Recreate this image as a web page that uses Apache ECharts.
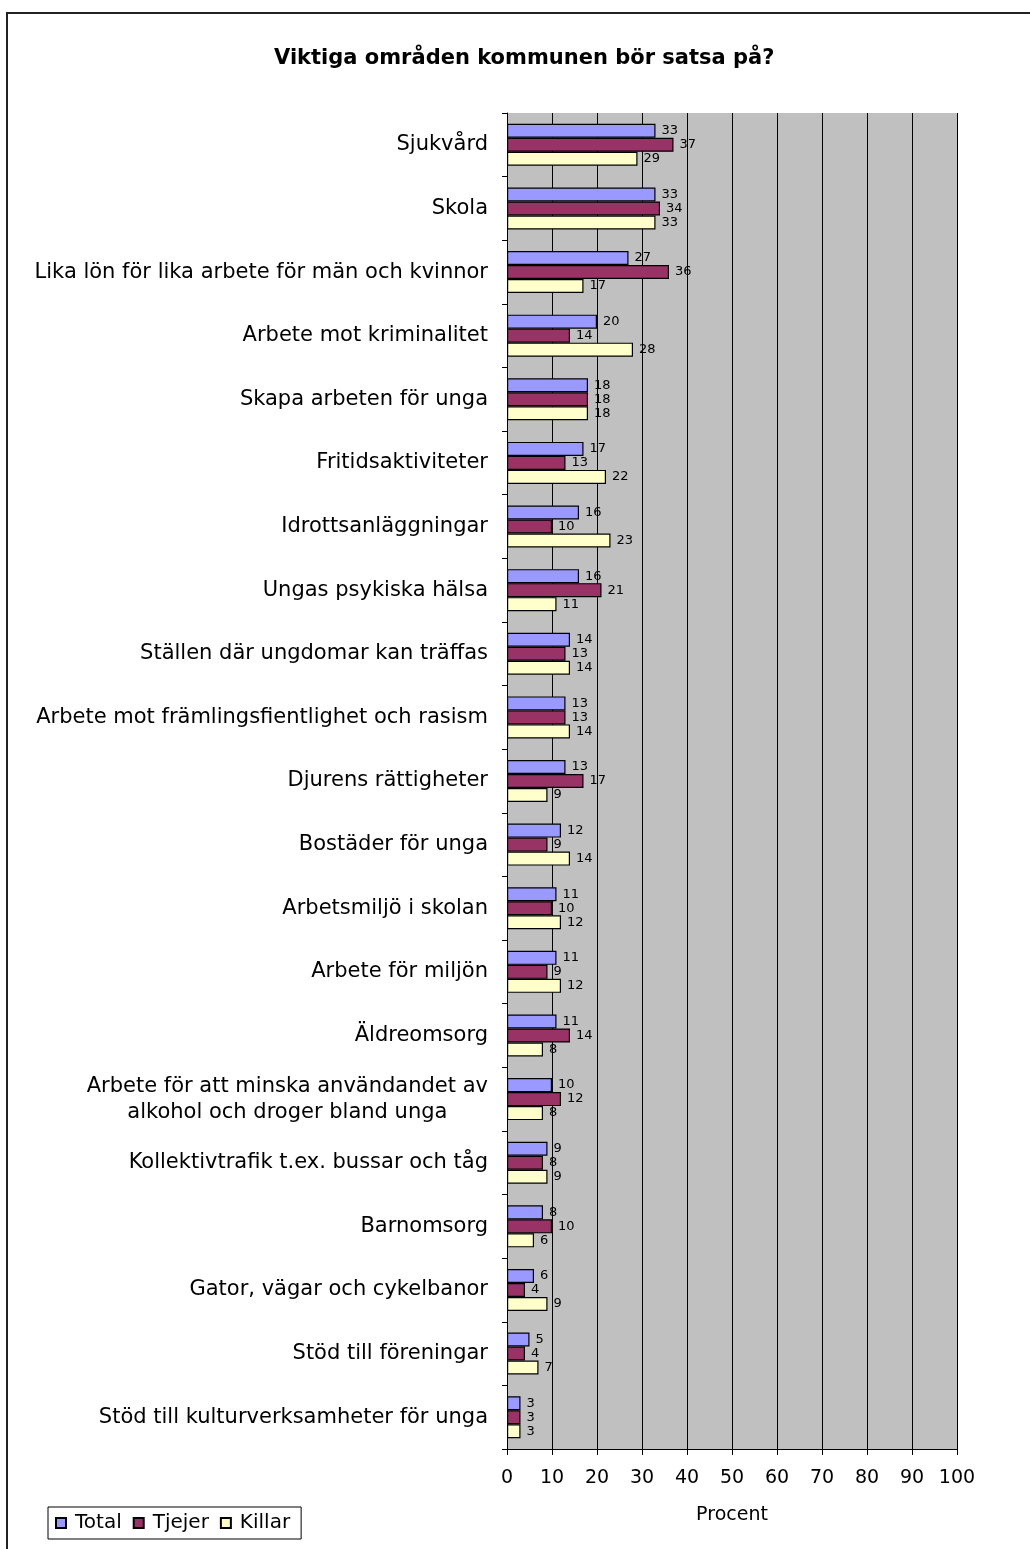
<!DOCTYPE html>
<html>
<head>
<meta charset="utf-8">
<title>Viktiga områden kommunen bör satsa på?</title>
<script src="https://cdn.jsdelivr.net/npm/echarts@6/dist/echarts.min.js"></script>
<style>
  html, body { margin: 0; padding: 0; background: #fff; }
  #chart { width: 1030px; height: 1549px; }
</style>
</head>
<body>
<div id="chart"></div>
<script>
// kategorier, uppifrån och ned
const categories = [
  'Sjukvård',
  'Skola',
  'Lika lön för lika arbete för män och kvinnor',
  'Arbete mot kriminalitet',
  'Skapa arbeten för unga',
  'Fritidsaktiviteter',
  'Idrottsanläggningar',
  'Ungas psykiska hälsa',
  'Ställen där ungdomar kan träffas',
  'Arbete mot främlingsfientlighet och rasism',
  'Djurens rättigheter',
  'Bostäder för unga',
  'Arbetsmiljö i skolan',
  'Arbete för miljön',
  'Äldreomsorg',
  'Arbete för att minska användandet av\nalkohol och droger bland unga',
  'Kollektivtrafik t.ex. bussar och tåg',
  'Barnomsorg',
  'Gator, vägar och cykelbanor',
  'Stöd till föreningar',
  'Stöd till kulturverksamheter för unga'
]
const total  = [33, 33, 27, 20, 18, 17, 16, 16, 14, 13, 13, 12, 11, 11, 11, 10, 9, 8, 6, 5, 3]
const tjejer = [37, 34, 36, 14, 18, 13, 10, 21, 13, 13, 17, 9, 10, 9, 14, 12, 8, 10, 4, 4, 3]
const killar = [29, 33, 17, 28, 18, 22, 23, 11, 14, 14, 9, 14, 12, 12, 8, 8, 9, 6, 9, 7, 3]
const xTicks = [0, 10, 20, 30, 40, 50, 60, 70, 80, 90, 100]

const font = 'DejaVu Sans'

function barSeries(name, data, color) {
  return {
    name: name,
    type: 'bar',
    data: data,
    barWidth: 14,
    barGap: '0%',
    itemStyle: {
      color: color,
      borderColor: '#000',
      borderWidth: 1.2
    },
    label: {
      show: true,
      position: 'right',
      distance: 6,
      color: '#000',
      fontFamily: font,
      fontSize: 13
    }
  }
}

let chart = echarts.init(document.getElementById('chart'))
let option = {
  animation: false,
  backgroundColor: '#fff',
  textStyle: { fontFamily: font, color: '#000' },
  title: {
    text: 'Viktiga områden kommunen bör satsa på?',
    left: 274,
    top: 48,
    padding: 0,
    textStyle: {
      fontFamily: font,
      fontSize: 21,
      fontWeight: 'bold',
      color: '#000'
    }
  },
  legend: {
    left: 48,
    top: 1507,
    orient: 'horizontal',
    padding: [6, 11, 6, 7],
    itemGap: 11,
    itemWidth: 10,
    itemHeight: 10,
    icon: 'rect',
    borderColor: '#000',
    borderWidth: 1,
    backgroundColor: '#fff',
    textStyle: {
      fontFamily: font,
      fontSize: 20,
      color: '#000',
      padding: [0, 0, 0, 4]
    },
    data: ['Total', 'Tjejer', 'Killar']
  },
  grid: {
    left: 507,
    right: 73,
    top: 113,
    bottom: 100,
    show: true,
    backgroundColor: '#C0C0C0',
    borderWidth: 0
  },
  xAxis: {
    type: 'value',
    min: xTicks[0],
    max: xTicks[xTicks.length - 1],
    interval: 10,
    name: 'Procent',
    nameLocation: 'middle',
    nameGap: 57,
    nameTextStyle: { fontFamily: font, fontSize: 19, color: '#000' },
    axisLine: { show: true, lineStyle: { color: '#000', width: 1 } },
    axisTick: { show: true, length: 6, lineStyle: { color: '#000' } },
    axisLabel: { fontFamily: font, fontSize: 19, color: '#000', margin: 20 },
    splitLine: { show: true, lineStyle: { color: '#000', width: 1 } }
  },
  yAxis: {
    type: 'category',
    inverse: true,
    data: categories,
    axisLine: { show: true, lineStyle: { color: '#000', width: 1 } },
    axisTick: { show: true, length: 5, lineStyle: { color: '#000' } },
    axisLabel: {
      margin: 19,
      interval: 0,
      formatter: v => v.split('\n').map(s => '{c|' + s + '}').join('\n'),
      rich: {
        c: {
          align: 'center',
          fontFamily: font,
          fontSize: 21,
          lineHeight: 26,
          color: '#000'
        }
      }
    },
    splitLine: { show: false }
  },
  graphic: [{
    type: 'rect',
    shape: { x: 7, y: 13, width: 1200, height: 1700 },
    style: { fill: null, stroke: '#222', lineWidth: 2 },
    silent: true
  }],
  series: [
    barSeries('Total', total, '#9999FF'),
    barSeries('Tjejer', tjejer, '#993366'),
    barSeries('Killar', killar, '#FFFFCC')
  ]
}
chart.setOption(option)
</script>
</body>
</html>
